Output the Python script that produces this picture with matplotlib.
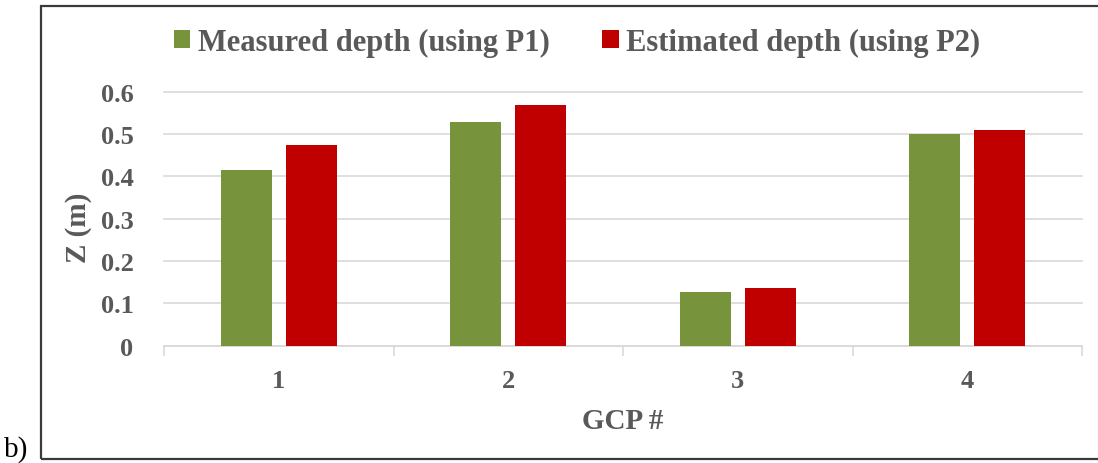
import matplotlib
matplotlib.use("Agg")
import matplotlib.pyplot as plt
import numpy as np
from matplotlib.patches import Rectangle, Patch

categories = ["1", "2", "3", "4"]
measured = [0.416, 0.529, 0.126, 0.499]
estimated = [0.475, 0.569, 0.136, 0.510]
series_names = ["Measured depth (using P1)", "Estimated depth (using P2)"]
yticks = [0, 0.1, 0.2, 0.3, 0.4, 0.5, 0.6]
ytick_labels = ["0", "0.1", "0.2", "0.3", "0.4", "0.5", "0.6"]

GREEN = "#77933C"
RED = "#C00000"
TXT = "#595959"
GRID = "#D9D9D9"
FONT = "Liberation Serif"

plt.rcParams['font.family'] = [FONT, 'DejaVu Serif']

W, H = 1098, 464
fig = plt.figure(figsize=(W / 100, H / 100), dpi=100)

# outer frame
fig.patches.append(Rectangle((41 / W, 1 - 460 / H), (1100 - 41) / W, (460 - 7) / H,
                             transform=fig.transFigure, fill=False,
                             edgecolor="#3a3a3a", linewidth=1.6))
fig.text(4 / W, 1 - 450 / H, "b)", fontsize=21, color="black", ha="left", va="center")

ax = fig.add_axes([164 / W, 1 - 346.7 / H, 918 / W, 254 / H])
x = np.arange(len(categories))
bw = 0.223
off = bw / 2 + 0.03
ax.bar(x - off, measured, bw, color=GREEN, zorder=3, label=series_names[0])
ax.bar(x + off, estimated, bw, color=RED, zorder=3, label=series_names[1])

ax.set_xlim(-0.5, len(categories) - 0.5)
ax.set_ylim(0, 0.6)
ax.set_yticks(yticks)
ax.set_yticklabels(ytick_labels)
ax.set_xticks(x)
ax.set_xticklabels(categories)
ax.set_xticks(np.arange(len(categories) + 1) - 0.5, minor=True)

for s in ["top", "right", "left"]:
    ax.spines[s].set_visible(False)
ax.spines["bottom"].set_color(GRID)
ax.spines["bottom"].set_linewidth(1.2)
ax.yaxis.grid(True, color=GRID, linewidth=1.2, zorder=0)
for gl in ax.yaxis.get_gridlines():
    gl.set_clip_on(False)
ax.set_axisbelow(True)

ax.tick_params(axis="y", length=0, pad=22, labelsize=19, labelcolor=TXT)
ax.tick_params(axis="x", which="major", length=0, pad=16.5, labelsize=19, labelcolor=TXT)
ax.tick_params(axis="x", which="minor", length=7, width=1.2, color=GRID)
for lab in ax.get_xticklabels() + ax.get_yticklabels():
    lab.set_fontweight("bold")

ax.set_ylabel("Z (m)", fontsize=21, fontweight="bold", color=TXT)
ax.yaxis.set_label_coords(-0.078, 0.47)
ax.set_xlabel("GCP #", fontsize=21, fontweight="bold", color=TXT)
ax.xaxis.set_label_coords(0.5, -0.243)

handles = [Patch(facecolor=GREEN, label=series_names[0]),
           Patch(facecolor=RED, label=series_names[1])]
leg = fig.legend(handles=handles, loc="center", bbox_to_anchor=(577 / W, 1 - 43 / H),
                 ncol=2, frameon=False, prop={"family": FONT, "weight": "bold", "size": 22},
                 handlelength=0.55, handleheight=0.55, handletextpad=0.25,
                 columnspacing=1.7, borderpad=0)
for t in leg.get_texts():
    t.set_color(TXT)

fig.savefig("out.png", dpi=100)
